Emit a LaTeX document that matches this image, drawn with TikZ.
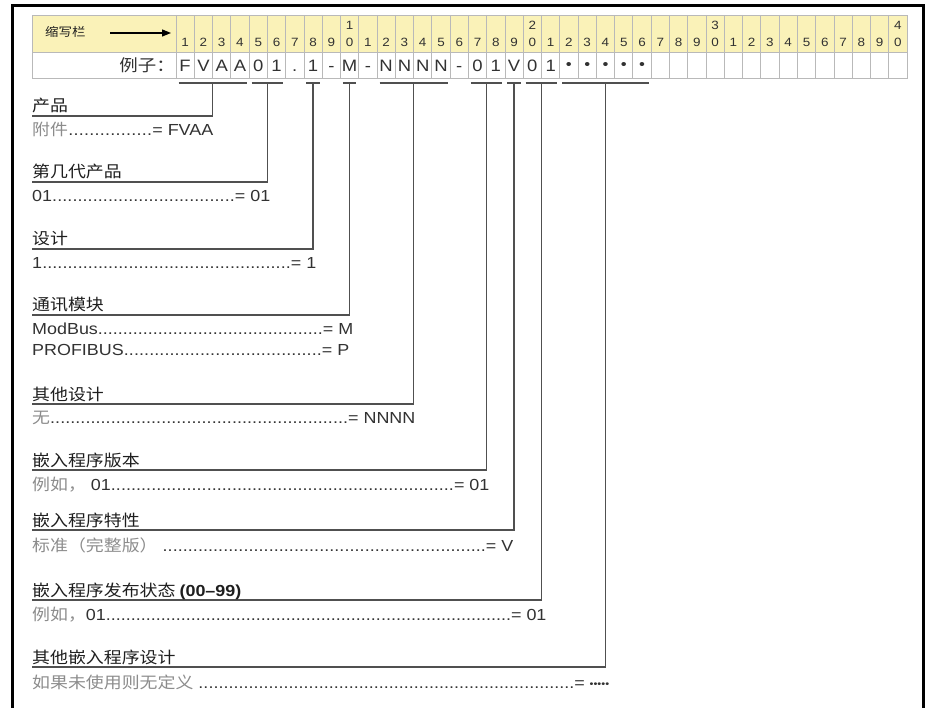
\documentclass[tikz,border=0pt]{standalone}
\usepackage{fontspec}
\setmainfont[FakeStretch=1.12]{Liberation Sans}
\newfontfamily\cjk[FakeStretch=1.12]{Noto Sans CJK SC}
\usetikzlibrary{arrows.meta}
\definecolor{hdryellow}{RGB}{250,242,184}
\definecolor{gridgray}{RGB}{185,185,185}
\definecolor{linegray}{RGB}{80,80,80}
\definecolor{txtdark}{RGB}{30,30,30}
\definecolor{txtmid}{RGB}{50,50,50}
\definecolor{txtlight}{RGB}{140,140,140}
\newcommand\leadline[3]{\hbox to #1pt{#2\xleaders\hbox{.}\hfill#3}}
\newcommand\gr[1]{{\cjk\color{txtlight}#1}}
\tikzset{
  digit/.style={font=\fontsize{12}{13}\selectfont, text=txtmid, inner sep=0, anchor=base},
  exchar/.style={font=\fontsize{16.5}{18}\selectfont, text=txtmid, inner sep=0, anchor=base},
  exdot/.style={font=\fontsize{15}{16}\selectfont, text=txtmid, inner sep=0, anchor=base},
  heading/.style={font=\fontsize{16}{18}\selectfont\cjk, text=txtdark, inner sep=0, anchor=base west},
  subline/.style={font=\fontsize{16}{18}\selectfont, text=txtmid, inner sep=0, anchor=base west},
  conn/.style={draw=linegray, line width=1.3pt},
  gridline/.style={draw=gridgray, line width=0.8pt},
}
\begin{document}
\begin{tikzpicture}[x=1pt,y=-1pt]
\useasboundingbox (0,0) rectangle (929,708);
% outer frame
\draw[line width=3pt] (12,712) -- (12,6) -- (923,6) -- (923,712);
% header table
\fill[hdryellow] (32,15) rectangle (907,52);
\draw[gridline] (32,15) rectangle (907,78);
\draw[gridline] (32,52) -- (907,52);
\foreach \i in {0,...,39} \draw[gridline] ({176+\i*18.275},15) -- ({176+\i*18.275},78);
\node[font=\fontsize{12}{13}\selectfont\cjk, text=txtdark, inner sep=0, anchor=base west] (abbr) at (45,37) {缩写栏};
\coordinate (a0) at (110,33);
\coordinate (a1) at (171,33);
\draw[line width=1.2pt, -{Triangle[length=9pt,width=7pt]}] (a0) -- (a1);
\foreach \i in {1,...,40}{
  \pgfmathtruncatemacro\d{mod(\i,10)}
  \node[digit] (u\i) at ({176+(\i-0.5)*18.275},47) {\d};
}
\foreach \t/\i in {1/10,2/20,3/30,4/40}
  \node[digit] (t\i) at ({176+(\i-0.5)*18.275},29.5) {\t};
\node[font=\fontsize{16.5}{18}\selectfont\cjk, text=txtmid, inner sep=0, anchor=base east] (ex) at (175,72) {例子：};
\foreach \c [count=\i] in {F,V,A,A,0,1,.,1,-,M,-,N,N,N,N,-,0,1,V,0,1}
  \node[exchar] (e\i) at ({176+(\i-0.5)*18.275},72) {\c};
\foreach \i in {22,...,26}
  \node[exdot] (e\i) at ({176+(\i-0.5)*18.275},70) {•};
% brackets
\foreach \a/\b/\n in {1/4/1,5/6/2,8/8/3,10/10/4,12/15/5,17/18/6,19/19/7,20/21/8,22/26/9}{
  \draw[conn] ({176+(\a-1)*18.275+2.5},83) -- ({176+\b*18.275-2.5},83);
  \coordinate (b\n) at ({176+(\a-1+\b)*18.275/2},83);
}
% leader lines
\foreach \n/\y in {1/116,2/182,3/249,4/315,5/404,6/470,7/530,8/600,9/667}{
  \coordinate (l\n) at (32,\y);
  \draw[conn] (b\n) |- (l\n);
}
\node[heading] (h1) at (32,112) {产品};
\node[subline] (s1) at (32,136) {\leadline{181}{\gr{附件}}{= FVAA}};
\node[heading] (h2) at (32,178) {第几代产品};
\node[subline] (s2) at (32,202) {\leadline{238}{01}{= 01}};
\node[heading] (h3) at (32,245) {设计};
\node[subline] (s3) at (32,269) {\leadline{284}{1}{= 1}};
\node[heading] (h4) at (32,311) {通讯模块};
\node[subline] (s4a) at (32,335) {\leadline{321}{ModBus}{= M}};
\node[subline] (s4b) at (32,356) {\leadline{317}{PROFIBUS}{= P}};
\node[heading] (h5) at (32,400) {其他设计};
\node[subline] (s5) at (32,424) {\leadline{383}{\gr{无}}{= NNNN}};
\node[heading] (h6) at (32,466) {嵌入程序版本};
\node[subline] (s6) at (32,490) {\leadline{457}{\gr{例如，} 01}{= 01}};
\node[heading] (h7) at (32,526) {嵌入程序特性};
\node[subline] (s7) at (32,551) {\leadline{481}{\gr{标准（完整版）} }{= V}};
\node[heading] (h8) at (32,596) {嵌入程序发布状态 {\rmfamily\bfseries (00–99)}};
\node[subline] (s8) at (32,620) {\leadline{514}{\gr{例如，}01}{= 01}};
\node[heading] (h9) at (32,663) {其他嵌入程序设计};
\node[subline] (s9) at (32,688) {\leadline{577}{\gr{如果未使用则无定义} }{= {\fontsize{10}{11}\selectfont\raisebox{0.5pt}{•••••}}}};
\end{tikzpicture}
\end{document}
